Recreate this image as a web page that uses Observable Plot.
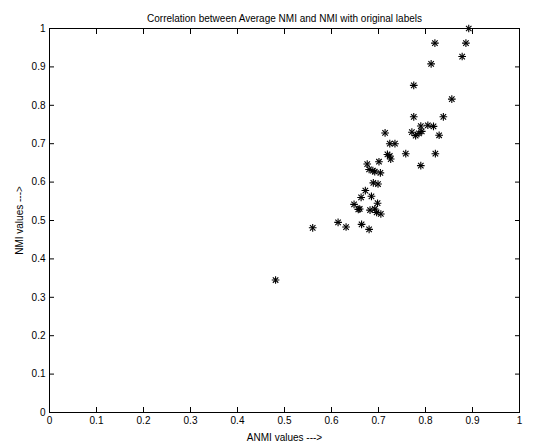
<!DOCTYPE html>
<html>
<head>
<meta charset="utf-8">
<script src="https://cdn.jsdelivr.net/npm/d3@7"></script>
<script src="https://cdn.jsdelivr.net/npm/@observablehq/plot@0.6"></script>
<style>
  html, body { margin: 0; padding: 0; background: #fff; }
  svg { font-family: "Liberation Sans", Arial, Helvetica, sans-serif; }
</style>
</head>
<body>
<div id="chart"></div>
<script>
const title = "Correlation between Average NMI and NMI with original labels";
const xLabel = "ANMI values --->";
const yLabel = "NMI values --->";
const tickValues = [0, 0.1, 0.2, 0.3, 0.4, 0.5, 0.6, 0.7, 0.8, 0.9, 1];
const tickLabels = ["0", "0.1", "0.2", "0.3", "0.4", "0.5", "0.6", "0.7", "0.8", "0.9", "1"];

const anmi = [
  0.892, 0.820, 0.886, 0.878, 0.812, 0.775, 0.856, 0.775, 0.838, 0.790,
  0.805, 0.817, 0.714, 0.771, 0.779, 0.786, 0.792, 0.829, 0.724, 0.735,
  0.719, 0.724, 0.726, 0.758, 0.821, 0.676, 0.701, 0.790,
  0.481, 0.560, 0.614, 0.631, 0.664, 0.680, 0.648, 0.657, 0.660, 0.682,
  0.692, 0.696, 0.705, 0.698, 0.663, 0.685, 0.672, 0.689, 0.699, 0.680,
  0.688, 0.692, 0.704
];
const nmi = [
  1.000, 0.962, 0.962, 0.927, 0.908, 0.852, 0.816, 0.770, 0.770, 0.746,
  0.748, 0.745, 0.728, 0.730, 0.721, 0.727, 0.732, 0.722, 0.700, 0.700,
  0.672, 0.668, 0.660, 0.674, 0.674, 0.647, 0.653, 0.643,
  0.345, 0.481, 0.495, 0.483, 0.490, 0.477, 0.542, 0.529, 0.530, 0.527,
  0.530, 0.521, 0.517, 0.545, 0.560, 0.563, 0.578, 0.598, 0.595, 0.633,
  0.630, 0.627, 0.624
];

const points = anmi.map((x, i) => ({x, y: nmi[i]}));
const fmt = d => tickLabels[tickValues.indexOf(d)] ?? String(d);
const blank = () => "";

const chart = Plot.plot({
  width: 543,
  height: 443,
  marginLeft: 49,
  marginRight: 24,
  marginTop: 28,
  marginBottom: 31,
  style: {fontSize: "10px", fontFamily: "'Liberation Sans', Arial, Helvetica, sans-serif", color: "#000", background: "#fff"},
  x: {domain: [0, 1]},
  y: {domain: [0, 1]},
  marks: [
    Plot.frame({stroke: "#000", strokeWidth: 1}),
    Plot.axisX({anchor: "bottom", ticks: tickValues, tickSize: -5, tickFormat: blank, label: null, stroke: "#000"}),
    Plot.axisX({anchor: "top", ticks: tickValues, tickSize: -5, tickFormat: blank, label: null, stroke: "#000"}),
    Plot.axisY({anchor: "left", ticks: tickValues, tickSize: -5, tickFormat: blank, label: null, stroke: "#000"}),
    Plot.axisY({anchor: "right", ticks: tickValues, tickSize: -5, tickFormat: blank, label: null, stroke: "#000"}),
    Plot.axisX({anchor: "bottom", ticks: tickValues, tickSize: 0, tickPadding: 4, tickFormat: fmt,
      label: xLabel, labelAnchor: "center", labelArrow: "none", labelOffset: 28, fill: "#000"}),
    Plot.axisY({anchor: "left", ticks: tickValues, tickSize: 0, tickPadding: 4, tickFormat: fmt,
      label: yLabel, labelAnchor: "center", labelArrow: "none", labelOffset: 34, fill: "#000"}),
    Plot.dot(points, {x: "x", y: "y", symbol: "plus", r: 2.6, stroke: "#000", strokeWidth: 1.1}),
    Plot.dot(points, {x: "x", y: "y", symbol: "times", r: 2.6, stroke: "#000", strokeWidth: 1.1}),
    Plot.text([title], {frameAnchor: "top", dy: -14, text: d => d, fontSize: 10, fill: "#000"})
  ]
});
document.getElementById("chart").appendChild(chart);
</script>
</body>
</html>
